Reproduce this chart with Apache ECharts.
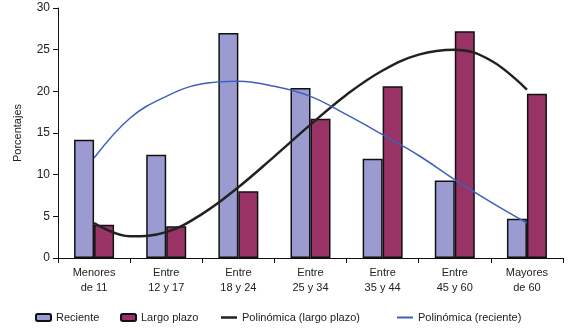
<!DOCTYPE html>
<html>
<head>
<meta charset="utf-8">
<script src="https://cdn.jsdelivr.net/npm/echarts@6/dist/echarts.min.js"></script>
<style>
  html, body { margin: 0; padding: 0; background: #fff; }
  #chart { width: 571px; height: 329px; }
</style>
</head>
<body>
<div id="chart"></div>
<script>
// categorias de edad
const categorias = ['Menores\nde 11', 'Entre\n12 y 17', 'Entre\n18 y 24', 'Entre\n25 y 34', 'Entre\n35 y 44', 'Entre\n45 y 60', 'Mayores\nde 60'];
const reciente = [14.2, 12.4, 27.0, 20.4, 11.9, 9.3, 4.7];
const largoPlazo = [4.0, 3.8, 8.0, 16.7, 20.6, 27.2, 19.7];

// lineas de tendencia (posicion en categorias, valor)
const posTendencia = [0, 0.5, 1, 1.5, 2, 2.5, 3, 3.5, 4, 4.5, 5, 5.5, 6];
const tendLargo = [4.2, 2.6, 3.1, 5.3, 8.5, 12.2, 16.0, 19.6, 22.5, 24.4, 25.0, 23.7, 20.2];
const tendReciente = [12.0, 16.8, 19.4, 20.9, 21.2, 20.6, 19.4, 17.2, 14.8, 12.3, 9.4, 6.7, 4.2];
const yTicks = [0, 5, 10, 15, 20, 25, 30];

const fuente = "'Liberation Sans', Arial, sans-serif";
const textoColor = '#222';

function pares(xs, ys) {
  return xs.map((x, i) => [x, ys[i]]);
}

const legendBase = {
  top: 312,
  padding: 0,
  itemWidth: 15,
  itemHeight: 7,
  textStyle: { fontFamily: fuente, fontSize: 11, color: textoColor }
};

const option = {
  animation: false,
  textStyle: { fontFamily: fuente },
  grid: { left: 58, right: 8, top: 8, bottom: 71 },
  legend: [
    Object.assign({}, legendBase, { left: 35, data: ['Reciente'] }),
    Object.assign({}, legendBase, { left: 120, data: ['Largo plazo'] }),
    Object.assign({}, legendBase, { left: 221, itemWidth: 16, itemHeight: 2.5,
      data: [{ name: 'Polinómica (largo plazo)', icon: 'rect' }] }),
    Object.assign({}, legendBase, { left: 397, itemWidth: 16, itemHeight: 2,
      data: [{ name: 'Polinómica (reciente)', icon: 'rect' }] })
  ],
  xAxis: [
    {
      type: 'category',
      data: categorias,
      boundaryGap: true,
      axisLine: { lineStyle: { color: '#111', width: 1 } },
      axisTick: { show: true, length: 5, inside: false, lineStyle: { color: '#111' } },
      axisLabel: {
        fontFamily: fuente, fontSize: 11, color: textoColor,
        lineHeight: 15, margin: 7, interval: 0
      },
      splitLine: { show: false }
    },
    {
      type: 'value',
      min: -0.5,
      max: 6.5,
      show: false
    }
  ],
  yAxis: {
    type: 'value',
    min: yTicks[0],
    max: yTicks[yTicks.length - 1],
    interval: 5,
    name: 'Porcentajes',
    nameLocation: 'middle',
    nameGap: 35,
    nameTextStyle: { fontFamily: fuente, fontSize: 11, color: textoColor },
    axisLine: { show: true, onZero: false, lineStyle: { color: '#111', width: 1 } },
    axisTick: { show: true, length: 5, lineStyle: { color: '#111' } },
    axisLabel: { fontFamily: fuente, fontSize: 12, color: textoColor, margin: 8 },
    splitLine: { show: false }
  },
  series: [
    {
      name: 'Reciente',
      type: 'bar',
      data: reciente,
      barWidth: 20,
      barGap: '0%',
      itemStyle: { color: '#9b9bd2', borderColor: '#111', borderWidth: 1.5 }
    },
    {
      name: 'Largo plazo',
      type: 'bar',
      data: largoPlazo,
      barWidth: 20,
      barGap: '0%',
      itemStyle: { color: '#993366', borderColor: '#111', borderWidth: 1.5 }
    },
    {
      name: 'Polinómica (largo plazo)',
      type: 'line',
      xAxisIndex: 1,
      data: pares(posTendencia, tendLargo),
      smooth: 0.4,
      symbol: 'none',
      lineStyle: { color: '#222', width: 2.5 },
      itemStyle: { color: '#222' },
      z: 5
    },
    {
      name: 'Polinómica (reciente)',
      type: 'line',
      xAxisIndex: 1,
      data: pares(posTendencia, tendReciente),
      smooth: 0.4,
      symbol: 'none',
      lineStyle: { color: '#3f5fbf', width: 1.5 },
      itemStyle: { color: '#3f5fbf' },
      z: 6
    }
  ]
};

const chart = echarts.init(document.getElementById('chart'));
chart.setOption(option);
</script>
</body>
</html>
